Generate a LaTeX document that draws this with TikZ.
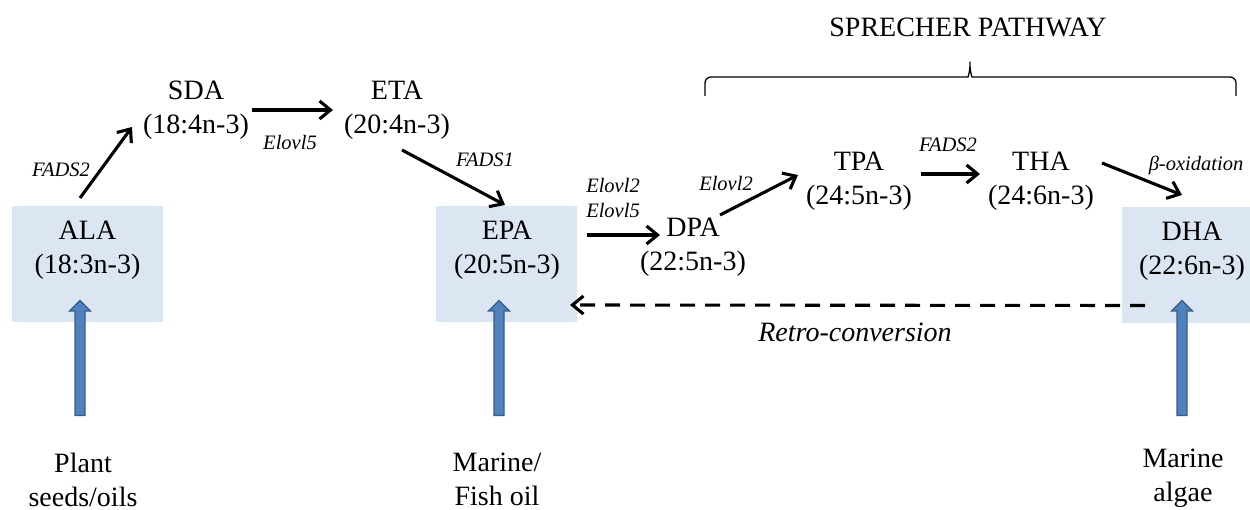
\documentclass[tikz,border=0pt]{standalone}
\usepackage{fontspec}
\setmainfont{Liberation Serif}
\usepackage{xcolor}
\usetikzlibrary{shapes.arrows,arrows.meta}
\definecolor{srcfill}{HTML}{DCE6F2}
\definecolor{feedfill}{HTML}{4F81BD}
\definecolor{feedline}{HTML}{385D8A}

\begin{document}
\begin{tikzpicture}[x=1pt,y=-1pt,
  fa/.style={align=center,inner sep=0pt,font=\fontsize{28}{34}\selectfont},
  src/.style={rectangle,fill=srcfill,minimum height=116pt,inner sep=0pt},
  enz/.style={align=center,inner sep=0pt,font=\itshape\fontsize{20.5}{25}\selectfont},
  feed/.style={single arrow,draw=feedline,fill=feedfill,line width=1.2pt,shape border rotate=90,
    minimum height=115pt,inner sep=4.4pt,single arrow head extend=5.5pt},
  arr/.style={-{Straight Barb[length=11pt,width=18pt]},line width=3.1pt}]
\useasboundingbox (0,0) rectangle (1250,510);
\node[src,minimum width=151pt] (alabox) at (87.5,264) {};
\node[src,minimum width=141pt] (epabox) at (506.5,264) {};
\node[src,minimum width=128pt] (dhabox) at (1186,265) {};
\node[fa] (ala) at (87.5,250.5) {ALA\\(18:3n-3)};
\node[fa] (sda) at (196,110) {SDA\\(18:4n-3)};
\node[fa] (eta) at (397,110) {ETA\\(20:4n-3)};
\node[fa] (epa) at (507,250) {EPA\\(20:5n-3)};
\node[fa] (dpa) at (693,247) {DPA\\(22:5n-3)};
\node[fa] (tpa) at (859,181) {TPA\\(24:5n-3)};
\node[fa] (tha) at (1041,181) {THA\\(24:6n-3)};
\node[fa] (dha) at (1192,251) {DHA\\(22:6n-3)};
\node[fa] (plant) at (83,479.5) {Plant\\seeds/oils};
\node[fa] (fish) at (497,479.5) {Marine/\\Fish oil};
\node[fa] (algae) at (1183,478) {Marine\\algae};
\node[feed] (alafeed) at (80,360.5) {};
\node[feed] (epafeed) at (499,360.5) {};
\node[feed] (dhafeed) at (1182,360.5) {};
\draw[arr] ([shift={(-7.5,-52.5)}]ala.center) -- ([shift={(-64,17)}]sda.center);
\draw[arr] ([shift={(56,0)}]sda.center) -- ([shift={(-64,0)}]eta.center);
\draw[arr] ([shift={(5,40)}]eta.center) -- ([shift={(-2,-45)}]epa.center);
\draw[arr] ([shift={(80,-15)}]epa.center) -- ([shift={(-33,-12)}]dpa.center);
\draw[arr] ([shift={(27,-32)}]dpa.center) -- ([shift={(-61,-6)}]tpa.center);
\draw[arr] ([shift={(62,-7)}]tpa.center) -- ([shift={(-61,-7)}]tha.center);
\draw[arr] ([shift={(61,-18)}]tha.center) -- ([shift={(-10,-56)}]dha.center);
\draw[arr,dash pattern=on 15pt off 10pt] ([shift={(-41,40.5)}]dhabox.center) -- ([shift={(63.5,41)}]epabox.center);
\node[enz] (fadsa) at (61,170) {FADS2};
\node[enz] (elovla) at (290,142) {Elovl5};
\node[enz] (fadsb) at (485,160) {FADS1};
\node[enz] (elovlb) at (613,197.5) {Elovl2\\Elovl5};
\node[enz] (elovlc) at (726,183) {Elovl2};
\node[enz] (fadsc) at (948,145) {FADS2};
\node[enz] (betaox) at (1196,165) {β-oxidation};
\node[fa,font=\itshape\fontsize{28}{34}\selectfont] (retro) at (855,332) {Retro-conversion};
\node[fa] (sprecher) at (968,27) {SPRECHER PATHWAY};
\draw[line width=1.3pt,rounded corners=6pt] (705,96) -- (705,77) -- (962,77)
  .. controls (968,77) and (970,72) .. (970,58) .. controls (970,72) and (972,77) .. (978,77)
  -- (1236,77) -- (1236,96);
\end{tikzpicture}
\end{document}
